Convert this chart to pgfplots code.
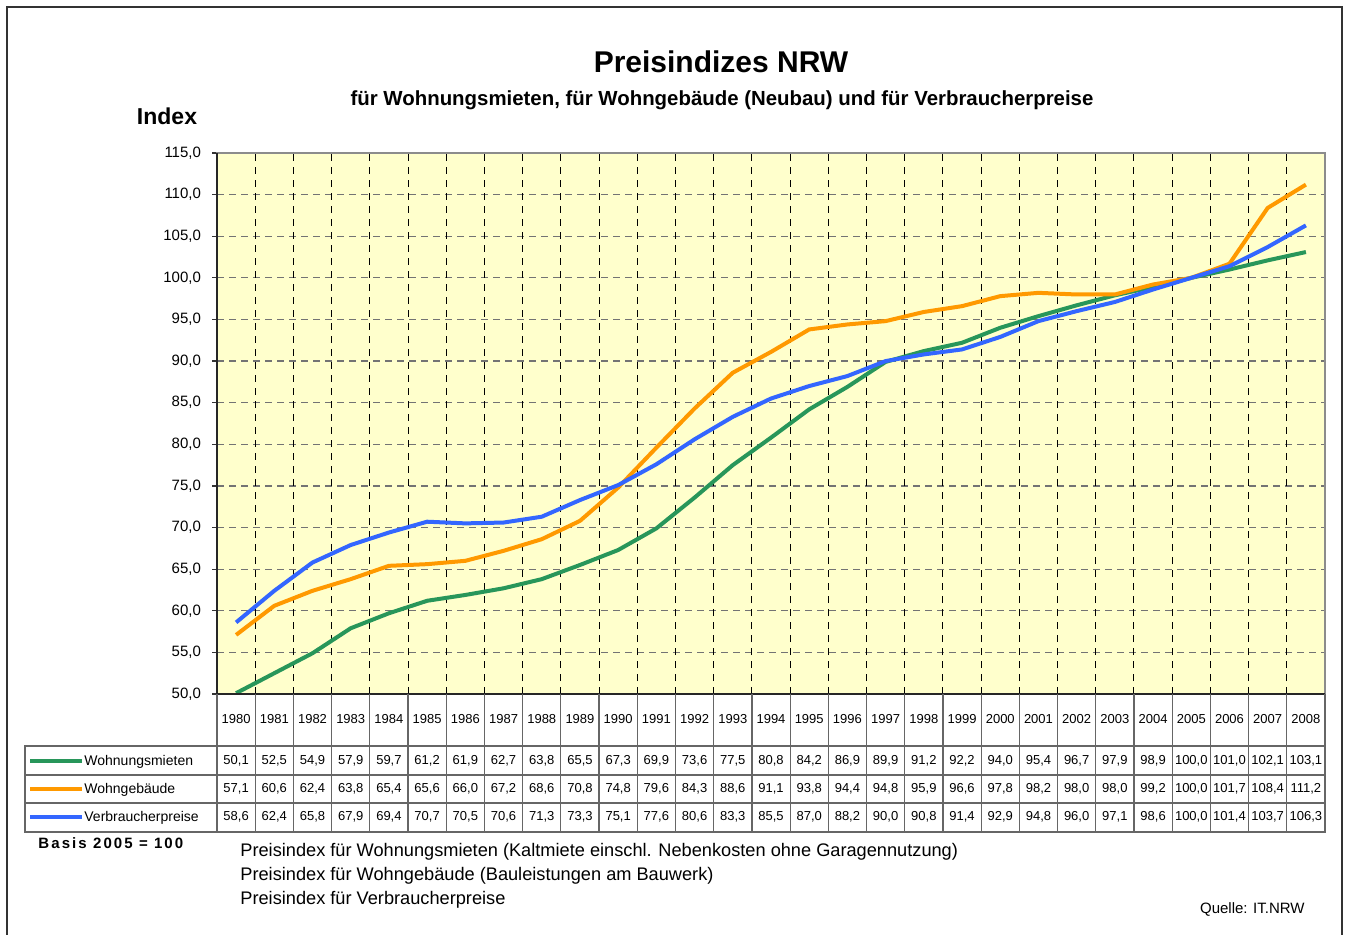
\documentclass[border=0pt]{standalone}
\usepackage{fontspec}
\setmainfont{Liberation Sans}
\usepackage{pgfplots}
\usepackage{pgfplotstable}
\pgfplotsset{compat=1.18}

\definecolor{cmiet}{RGB}{40,150,90}
\definecolor{cgeb}{RGB}{255,153,0}
\definecolor{cvpi}{RGB}{51,102,255}
\definecolor{bgyellow}{RGB}{255,255,204}

% Basis 2005 = 100
\pgfplotstableread{
year miet  geb   vpi
1980 50.1  57.1  58.6
1981 52.5  60.6  62.4
1982 54.9  62.4  65.8
1983 57.9  63.8  67.9
1984 59.7  65.4  69.4
1985 61.2  65.6  70.7
1986 61.9  66.0  70.5
1987 62.7  67.2  70.6
1988 63.8  68.6  71.3
1989 65.5  70.8  73.3
1990 67.3  74.8  75.1
1991 69.9  79.6  77.6
1992 73.6  84.3  80.6
1993 77.5  88.6  83.3
1994 80.8  91.1  85.5
1995 84.2  93.8  87.0
1996 86.9  94.4  88.2
1997 89.9  94.8  90.0
1998 91.2  95.9  90.8
1999 92.2  96.6  91.4
2000 94.0  97.8  92.9
2001 95.4  98.2  94.8
2002 96.7  98.0  96.0
2003 97.9  98.0  97.1
2004 98.9  99.2  98.6
2005 100.0 100.0 100.0
2006 101.0 101.7 101.4
2007 102.1 108.4 103.7
2008 103.1 111.2 106.3
}\datatable

\newcommand\tabfont{\fontsize{6.5}{8}\selectfont}
\newcommand\numfmt[1]{\pgfmathprintnumber[fixed,fixed zerofill,precision=1,use comma,assume math mode=true]{#1}}

\begin{document}
\begin{tikzpicture}[x=0.5pt,y=0.5pt]
\useasboundingbox (0,0) rectangle (1349,-935);
\clip (0,0) rectangle (1349,-935);
\draw[line width=1pt, black!80] (7,-950) -- (7,-7) -- (1342,-7) -- (1342,-950);

\begin{axis}[
  at={(108.5pt,-347pt)}, anchor=south west,
  width=554pt, height=270.5pt, scale only axis,
  xmin=1979.5, xmax=2008.5,
  ymin=50, ymax=115,
  ytick={50,55,...,115},
  xtick=\empty,
  ytick pos=left,
  tick align=outside,
  major tick length=2.5pt,
  ytick style={black!80, line width=0.6pt},
  yticklabel style={font=\fontsize{7.5}{9}\selectfont, xshift=-2pt,
    /pgf/number format/.cd, fixed, fixed zerofill, precision=1, use comma, assume math mode=true},
  ymajorgrids,
  major grid style={dash pattern=on 3.5pt off 2.5pt, black!55, line width=0.6pt},
  extra x ticks={1980.5,1981.5,...,2007.5},
  extra x tick labels={},
  extra x tick style={xmajorgrids=true, major tick length=0pt,
    major grid style={dash pattern=on 3.5pt off 3pt, black, line width=0.5pt}},
  axis line style={black!45, line width=1pt},
  axis background/.style={fill=bgyellow},
  clip=false,
]
\addplot[cmiet, line width=2pt] table[x=year, y=miet] {\datatable};
\addplot[cgeb, line width=2pt] table[x=year, y=geb] {\datatable};
\addplot[cvpi, line width=2pt] table[x=year, y=vpi] {\datatable};
\draw[black!85, line width=1.2pt] (axis cs:1979.5,115) -- (axis cs:1979.5,50) -- (axis cs:2008.5,50);
\end{axis}

% titles
\node[font=\fontsize{15}{18}\selectfont\bfseries] at (721,-62) {Preisindizes NRW};
\node[font=\fontsize{10.2}{12}\selectfont\bfseries] at (722,-100) {für Wohnungsmieten, für Wohngebäude (Neubau) und für Verbraucherpreise};
\node[font=\fontsize{11.5}{13}\selectfont\bfseries] at (167,-116) {Index};

% data table
\draw[black!60, line width=0.6pt] (25,-746) rectangle (1325,-832);
\draw[black!60, line width=0.6pt] (25,-775) -- (1325,-775) (25,-803) -- (1325,-803);
\foreach \k in {0,...,29}{
  \pgfmathsetmacro\lx{217+\k*38.2069}
  \draw[black!60, line width=0.6pt] (\lx,-694) -- (\lx,-832);
}
\foreach \i in {0,...,28}{
  \pgfmathsetmacro\cx{217+(\i+0.5)*38.2069}
  \pgfplotstablegetelem{\i}{year}\of\datatable \edef\vy{\pgfplotsretval}
  \pgfplotstablegetelem{\i}{miet}\of\datatable \edef\va{\pgfplotsretval}
  \pgfplotstablegetelem{\i}{geb}\of\datatable \edef\vb{\pgfplotsretval}
  \pgfplotstablegetelem{\i}{vpi}\of\datatable \edef\vc{\pgfplotsretval}
  \node[font=\tabfont] at (\cx,-719) {\vy};
  \node[font=\tabfont] at (\cx,-761) {\numfmt{\va}};
  \node[font=\tabfont] at (\cx,-789) {\numfmt{\vb}};
  \node[font=\tabfont] at (\cx,-817) {\numfmt{\vc}};
}
\draw[cmiet, line width=2pt] (30,-761) -- (82,-761);
\draw[cgeb, line width=2pt] (30,-789) -- (82,-789);
\draw[cvpi, line width=2pt] (30,-817) -- (82,-817);
\node[font=\fontsize{7}{8}\selectfont, anchor=west, inner sep=0pt] at (84,-762) {Wohnungsmieten};
\node[font=\fontsize{7}{8}\selectfont, anchor=west, inner sep=0pt] at (84,-790) {Wohngebäude};
\node[font=\fontsize{7}{8}\selectfont, anchor=west, inner sep=0pt] at (84,-818) {Verbraucherpreise};

% notes
\node[font=\fontsize{7.5}{9}\selectfont\bfseries\addfontfeatures{LetterSpace=14}, anchor=west, inner sep=0pt] at (38,-843) {Basis 2005 = 100};
\node[font=\fontsize{9.1}{11}\selectfont, anchor=west, inner sep=0pt] at (240,-852) {Preisindex für Wohnungsmieten (Kaltmiete einschl. Nebenkosten ohne Garagennutzung)};
\node[font=\fontsize{9.1}{11}\selectfont, anchor=west, inner sep=0pt] at (240,-876) {Preisindex für Wohngebäude (Bauleistungen am Bauwerk)};
\node[font=\fontsize{9.1}{11}\selectfont, anchor=west, inner sep=0pt] at (240,-900) {Preisindex für Verbraucherpreise};
\node[font=\fontsize{7.5}{9}\selectfont, anchor=east, inner sep=0pt] at (1305,-909) {Quelle: IT.NRW};
\end{tikzpicture}
\end{document}
